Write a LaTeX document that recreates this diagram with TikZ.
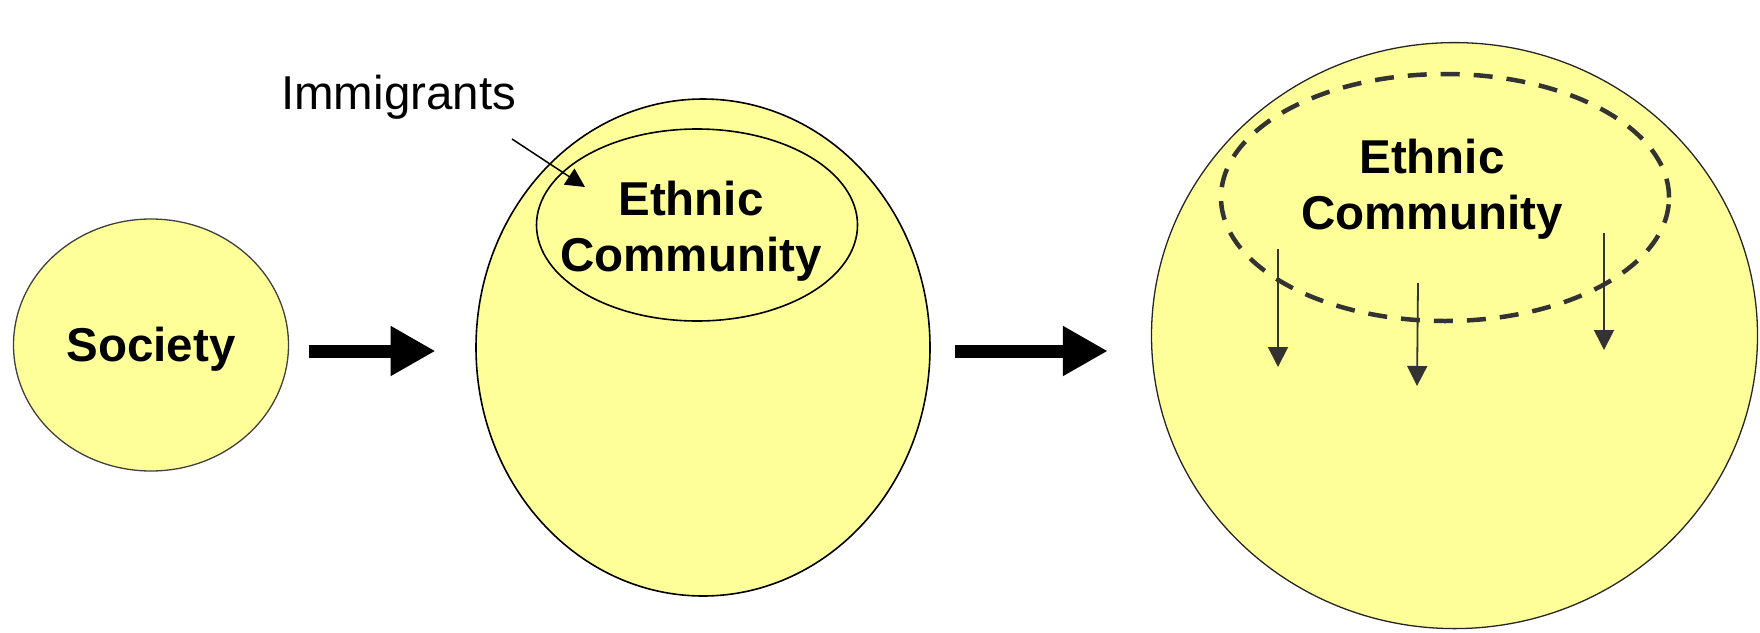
\documentclass[tikz,border=0pt]{standalone}
\usepackage{fontspec}
\setmainfont{Liberation Sans}
\usetikzlibrary{shapes.geometric,arrows.meta}
\definecolor{fillY}{HTML}{FFFF99}
\definecolor{dgray}{HTML}{333333}
\begin{document}
\begin{tikzpicture}[x=1pt,y=-1pt,
  blob/.style={ellipse, draw, fill=fillY, inner sep=0pt},
  lbl/.style={font=\fontsize{47.5}{56}\selectfont\bfseries, align=center, inner sep=0pt},
  plain/.style={font=\fontsize{47.5}{56}\selectfont, inner sep=0pt},
  bigarrow/.style={line width=13pt, -{Triangle[length=45pt,width=47pt]}},
  downarrow/.style={dgray, line width=1.8pt, -{Triangle[length=20pt,width=20pt]}},
  thinarrow/.style={black, line width=1.5pt, -{Triangle[length=19pt,width=19pt]}}]
\useasboundingbox (0,0) rectangle (1760,632);
% left
\node[blob, draw=black!75, line width=1.3pt, minimum width=275pt, minimum height=252pt] (soc) at (151,345) {};
\node[lbl] (soctext) at (151,349) {Society};
% middle
\node[blob, draw=black, line width=1.6pt, minimum width=454pt, minimum height=497pt] (mid) at (703,347.5) {};
\node[blob, draw=black, line width=1.6pt, minimum width=321pt, minimum height=192pt] (inner) at (697,225) {};
\node[lbl] (midtext) at (691,231) {Ethnic\\Community};
\node[plain, anchor=base west] (imm) at (281,109) {Immigrants};
\coordinate (immstart) at (512,139);
\coordinate (immend) at (585,187);
\draw[thinarrow] (immstart) -- (immend);
% right
\node[blob, draw=black!85, line width=1.3pt, minimum width=606pt, minimum height=586pt] (big) at (1454.5,335.6) {};
\node[ellipse, draw=dgray, line width=4.5pt, dash pattern=on 19pt off 14pt, minimum width=448pt, minimum height=247pt, inner sep=0pt] (dash) at (1445,197.5) {};
\node[lbl] (righttext) at (1432,189) {Ethnic\\Community};
% big arrows
\coordinate (a1s) at (308.7,351);
\coordinate (a1e) at (435.5,351);
\coordinate (a2s) at (955,351);
\coordinate (a2e) at (1107.8,351);
\draw[bigarrow] (a1s) -- (a1e);
\draw[bigarrow] (a2s) -- (a2e);
% down arrows
\coordinate (d1s) at (1278,249); \coordinate (d1e) at (1278,367);
\coordinate (d2s) at (1418,283); \coordinate (d2e) at (1417,386);
\coordinate (d3s) at (1604,233); \coordinate (d3e) at (1604,350);
\draw[downarrow] (d1s) -- (d1e);
\draw[downarrow] (d2s) -- (d2e);
\draw[downarrow] (d3s) -- (d3e);
\end{tikzpicture}
\end{document}
